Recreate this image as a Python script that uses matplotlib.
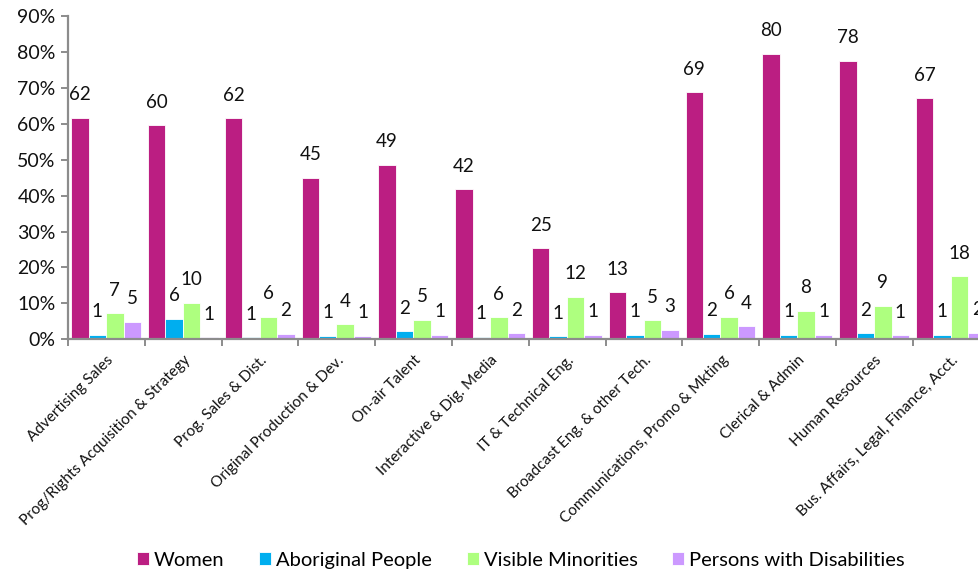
import matplotlib
matplotlib.use("Agg")
import matplotlib.pyplot as plt
from matplotlib.ticker import FixedLocator, PercentFormatter
import numpy as np

plt.rcParams['font.family'] = ['Lato', 'DejaVu Sans']

categories = [
    "Advertising Sales",
    "Prog/Rights Acquisition & Strategy",
    "Prog. Sales & Dist.",
    "Original Production & Dev.",
    "On-air Talent",
    "Interactive & Dig. Media",
    "IT & Technical Eng.",
    "Broadcast Eng. & other Tech.",
    "Communications, Promo & Mkting",
    "Clerical & Admin",
    "Human Resources",
    "Bus. Affairs, Legal, Finance, Acct.",
]

women = [61.7, 59.6, 61.6, 45.0, 48.6, 41.8, 25.4, 13.1, 68.8, 79.6, 77.6, 67.2]
aboriginal = [1.2, 5.7, 0.6, 1.0, 2.3, 0.7, 0.9, 1.2, 1.5, 1.3, 1.6, 1.3]
visible = [7.3, 10.2, 6.3, 4.2, 5.4, 6.1, 11.8, 5.3, 6.3, 7.9, 9.3, 17.6]
disabilities = [4.9, 0.6, 1.5, 1.0, 1.3, 1.6, 1.2, 2.6, 3.7, 1.2, 1.1, 1.8]

series_names = ["Women", "Aboriginal People", "Visible Minorities",
                "Persons with Disabilities"]
series_values = [women, aboriginal, visible, disabilities]
colors = ["#BB1E82", "#00AEEF", "#AEFF7F", "#CC99FF"]

fig = plt.figure(figsize=(9.79, 5.73), dpi=100)
ax = fig.add_axes([0.0695, 0.408, 0.9414, 0.5637])

n = len(categories)
x = np.arange(n)
bar_w = 0.2275
start = -0.5 + 0.04

for j, (name, vals, col) in enumerate(zip(series_names, series_values, colors)):
    pos = x + start + j * bar_w
    bars = ax.bar(pos, vals, width=bar_w, align='edge', color=col,
                  edgecolor='white', linewidth=0.6, label=name)
    for b, v in zip(bars, vals):
        ax.annotate(f"{round(v):d}",
                    (b.get_x() + b.get_width() / 2, v),
                    xytext=(0, 16.5), textcoords='offset points',
                    ha='center', va='center', fontsize=13.5, color='#111111')

ax.set_xlim(-0.5, n - 0.5)
ax.set_ylim(0, 90)

ax.yaxis.set_major_locator(FixedLocator(np.arange(0, 91, 10)))
ax.yaxis.set_major_formatter(PercentFormatter(decimals=0))
ax.tick_params(axis='y', labelsize=14, length=5, width=1.4,
               color='#8c8c8c', labelcolor='#111111', pad=4)

ax.set_xticks(x)
ax.set_xticklabels(categories, rotation=45, ha='right',
                   rotation_mode='anchor', fontsize=11, color='#111111')
ax.tick_params(axis='x', which='major', length=0, pad=10)
ax.set_xticks(np.arange(-0.5, n, 1.0), minor=True)
ax.tick_params(axis='x', which='minor', length=5, width=1.4, color='#8c8c8c')

for side in ('top', 'right'):
    ax.spines[side].set_visible(False)
for side in ('left', 'bottom'):
    ax.spines[side].set_color('#8c8c8c')
    ax.spines[side].set_linewidth(1.6)

fig.legend(loc='center', bbox_to_anchor=(0.532, 0.022), ncol=4,
           frameon=False, fontsize=14.5, handlelength=0.6, handleheight=0.6,
           handletextpad=0.25, columnspacing=1.72)

fig.savefig("out.png", dpi=100)
